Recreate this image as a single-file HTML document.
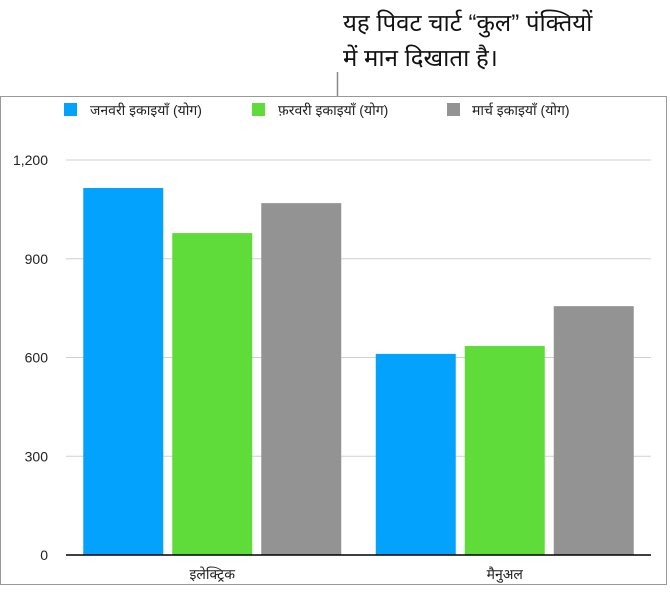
<!DOCTYPE html>
<html><head><meta charset="utf-8"><style>
body{margin:0;background:#fff;font-family:"Liberation Sans","Noto Sans CJK SC",sans-serif;}
svg text{font-family:"Liberation Sans","Noto Sans CJK SC",sans-serif;}
</style></head><body>
<svg id="c" width="670" height="587" xmlns="http://www.w3.org/2000/svg">
<text x="343" y="31" font-size="24" fill="#111">यह पिवट चार्ट “कुल” पंक्तियों</text>
<text x="343" y="66" font-size="24" fill="#111">में मान दिखाता है।</text>
<line x1="337.5" y1="72" x2="337.5" y2="96" stroke="#888" stroke-width="1.5"/>
<rect x="0.5" y="96.5" width="666" height="488" fill="none" stroke="#999"/>
<g>
<rect x="64" y="103" width="13" height="13" fill="#03a3fd"/>
<text x="90" y="115" font-size="14" fill="#222">जनवरी इकाइयाँ (योग)</text>
<rect x="252" y="103" width="13" height="13" fill="#5fdb3a"/>
<text x="278" y="115" font-size="14" fill="#222">फ़रवरी इकाइयाँ (योग)</text>
<rect x="447" y="103" width="13" height="13" fill="#939393"/>
<text x="472" y="115" font-size="14" fill="#222">मार्च इकाइयाँ (योग)</text>
</g>
<g id="grid"></g><g id="bars"></g><g id="axes"></g>
</svg>
<script>
const categories = ["इलेक्ट्रिक", "मैनुअल"];
const janValues = [1115, 611];
const febValues = [978, 635];
const marValues = [1069, 756];
const yTicks = [0, 300, 600, 900, 1200];
const yTickLabels = ["0", "300", "600", "900", "1,200"];
const NS = "http://www.w3.org/2000/svg";
const x0 = 66, x1 = 651, yTop = 160, yBot = 555, yMax = 1200;
const y = v => yBot - v / yMax * (yBot - yTop);
const bandW = (x1 - x0) / categories.length;
const xc = i => x0 + bandW * (i + 0.5);
function mk(tag, attrs, parent) { const e = document.createElementNS(NS, tag); for (const k in attrs) e.setAttribute(k, attrs[k]); document.getElementById(parent).appendChild(e); return e; }
yTicks.forEach((t, i) => {
  if (t > 0) {
    const g = mk("line", { x1: x0, x2: x1, y1: y(t), y2: y(t), stroke: "#d0d0d0", "stroke-width": 1 }, "grid");
    
    
  }
  const l = mk("text", { x: 48, y: y(t) + 5, "font-size": 14, fill: "#222", "text-anchor": "end" }, "axes");
  l.textContent = yTickLabels[i];
  
  
});
const series = [[janValues, "#03a3fd", "jan"], [febValues, "#5fdb3a", "feb"], [marValues, "#939393", "mar"]];
const bw = 80, step = 89;
categories.forEach((c, i) => {
  series.forEach((s, j) => {
    const v = s[0][i];
    const r = mk("rect", { x: xc(i) - 129 + j * step, y: y(v), width: bw, height: yBot - y(v), fill: s[1] }, "bars");
    
    
  });
  const t = mk("text", { x: xc(i), y: 579, "font-size": 14, fill: "#222", "text-anchor": "middle" }, "axes");
  t.textContent = c;
  
  
});
const ax = mk("line", { x1: x0, x2: x1, y1: yBot, y2: yBot, stroke: "#000", "stroke-width": 1.5 }, "axes");


</script>
</body></html>
